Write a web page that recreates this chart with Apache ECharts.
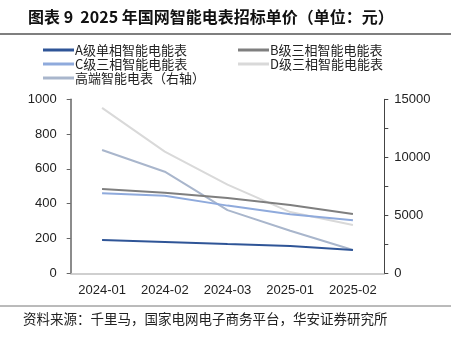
<!DOCTYPE html>
<html><head><meta charset="utf-8">
<script src="https://cdn.jsdelivr.net/npm/echarts@6/dist/echarts.min.js"></script>
<style>html,body{margin:0;padding:0;background:#fff}#c{width:451px;height:338px}</style>
</head><body><div id="c"></div>
<script>
const categories = ['2024-01','2024-02','2024-03','2025-01','2025-02'];
const seriesA = [191, 180, 168, 157, 134];
const seriesB = [484, 463, 433, 393, 341];
const seriesC = [460, 446, 389, 339, 305];
const seriesD = [951, 699, 510, 352, 278];
const seriesHigh = [10630, 8760, 5450, 3670, 2010];
const names = ['A级单相智能电能表','B级三相智能电能表','C级三相智能电能表','D级三相智能电能表','高端智能电表（右轴）'];
const colors = ['#2f5597','#7f7f7f','#8faadc','#d9d9d9','#a9b6cc'];
const FONT = '"Liberation Sans","Noto Sans CJK SC",sans-serif';
const CJK = '"Noto Sans CJK SC",sans-serif';
const chart = echarts.init(document.getElementById('c'));
function mk(i, data, yi){
  return {name:names[i], type:'line', data:data, yAxisIndex:yi, symbol:'none',
    lineStyle:{color:colors[i], width:2}, itemStyle:{color:colors[i]}, z: 10-i};
}
const legendCommon = {orient:'vertical', icon:'rect', itemWidth:31, itemHeight:3, itemGap:0,
  textStyle:{fontSize:13, color:'#222', fontFamily:CJK, padding:[0,0,0,-4], lineHeight:14}};
chart.setOption({
  animation:false,
  textStyle:{fontFamily:FONT},
  title:{text:'图表 9  2025 年国网智能电表招标单价（单位：元）', left:23, top:4,
    textStyle:{fontSize:16, fontWeight:'bold', color:'#111', fontFamily:CJK}},
  graphic:[
    {type:'line', shape:{x1:0,y1:34,x2:451,y2:34}, style:{stroke:'#555', lineWidth:1.5}},
    {type:'line', shape:{x1:0,y1:306,x2:451,y2:306}, style:{stroke:'#777', lineWidth:1}},
    {type:'text', left:23, top:312, style:{text:'资料来源：千里马，国家电网电子商务平台，华安证券研究所', fontSize:13.5, fill:'#222', fontFamily:CJK}}
  ],
  legend:[
    Object.assign({left:43, top:43, padding:0, data:[names[0],names[2],names[4]]}, legendCommon),
    Object.assign({left:238, top:43, padding:0, data:[names[1],names[3]]}, legendCommon)
  ],
  grid:{left:70.7, right:66.7, top:99.3, bottom:64.7},
  xAxis:{type:'category', data:categories, boundaryGap:true,
    axisLine:{lineStyle:{color:'#c0c0c0', width:1.5}}, axisTick:{show:false},
    axisLabel:{fontSize:13, color:'#222', margin:11}},
  yAxis:[
    {type:'value', min:0, max:1000, interval:200, position:'left',
      axisLine:{show:true, lineStyle:{color:'#666', width:1.5}},
      axisTick:{show:true, inside:false, length:4, lineStyle:{color:'#666'}},
      axisLabel:{fontSize:13, color:'#222', margin:14, formatter:v=>String(v)}, splitLine:{show:false}},
    {type:'value', min:0, max:15000, interval:5000, position:'right',
      axisLine:{show:true, lineStyle:{color:'#444', width:1}},
      axisTick:{show:true, inside:false, length:4, lineStyle:{color:'#444'}},
      minorTick:{show:true, splitNumber:2, length:4, lineStyle:{color:'#444'}},
      axisLabel:{fontSize:13, color:'#222', margin:10, formatter:v=>String(v)}, splitLine:{show:false}}
  ],
  series:[mk(0,seriesA,0), mk(1,seriesB,0), mk(2,seriesC,0), mk(3,seriesD,0), mk(4,seriesHigh,1)]
});
</script></body></html>
